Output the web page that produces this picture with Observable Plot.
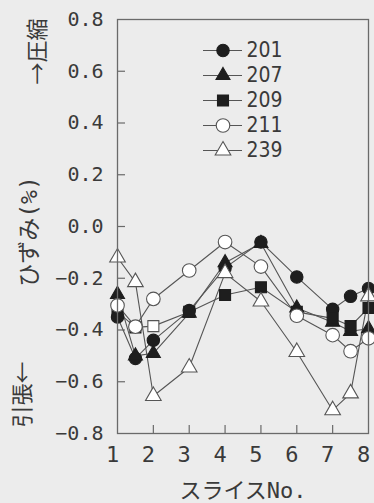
<!DOCTYPE html>
<html>
<head>
<meta charset="utf-8">
<script src="https://cdn.jsdelivr.net/npm/d3@7"></script>
<script src="https://cdn.jsdelivr.net/npm/@observablehq/plot@0.6"></script>
<style>
  html, body { margin: 0; padding: 0; background: #ececec; }
  #wrap { position: relative; width: 374px; height: 503px; }
  #legend { position: absolute; left: 198px; top: 38px; }
</style>
</head>
<body>
<div id="wrap"><div id="chart"></div><div id="legend"></div></div>
<script>
// ---- data ----
const slices = [1, 1.5, 2, 3, 4, 5, 6, 7, 7.5, 8];
const seriesNames = ["201", "207", "209", "211", "239"];
const v201 = [-0.35, -0.51, -0.44, -0.325, -0.16, -0.06, -0.195, -0.32, -0.27, -0.24];
const v207 = [-0.262, -0.50, -0.49, -0.335, -0.14, -0.065, -0.315, -0.37, -0.405, -0.395];
const v209 = [-0.33, -0.39, -0.385, -0.33, -0.265, -0.235, -0.33, -0.355, -0.385, -0.315];
const v211 = [-0.305, -0.387, -0.28, -0.17, -0.06, -0.155, -0.345, -0.42, -0.482, -0.432];
const v239 = [-0.12, -0.215, -0.655, -0.545, -0.18, -0.29, -0.485, -0.71, -0.645, -0.27];
const xTicks = [1, 2, 3, 4, 5, 6, 7, 8];
const yTicks = [-0.8, -0.6, -0.4, -0.2, 0.0, 0.2, 0.4, 0.6, 0.8];
const xLabel = "スライスNo.";
const yLabelLow = "引張←";
const yLabelMid = "ひずみ(%)";
const yLabelHigh = "→圧縮";
const hollowPoints = [{series: "209", slice: 2}];

// ---- build table ----
const valuesBySeries = {"201": v201, "207": v207, "209": v209, "211": v211, "239": v239};
const rows = seriesNames.flatMap(s => slices.map((x, i) => ({series: s, slice: x, value: valuesBySeries[s][i]})));

const DARK = "#1e1e1e", LINE = "#555", FRAME = "#6a6a6a", TEXT = "#3a3a3a";
const style = {
  "201": {symbol: "circle", fill: DARK, stroke: DARK, r: 6.2},
  "207": {symbol: "triangle", fill: DARK, stroke: DARK, r: 5.2},
  "209": {symbol: "square", fill: DARK, stroke: DARK, r: 6.2},
  "211": {symbol: "circle", fill: "white", stroke: LINE, r: 6.8},
  "239": {symbol: "triangle", fill: "white", stroke: LINE, r: 5.8}
};
const isHollow = d => hollowPoints.some(h => h.series === d.series && h.slice === d.slice);

const W = 374, H = 503, MT = 19, MB = 70, ML = 117, MR = 6, TICK = 8;
const plotW = W - ML - MR, plotH = H - MT - MB;

const mono = "'DejaVu Sans Mono', 'Noto Sans CJK JP', monospace";
const cjk = "'Noto Sans CJK JP', sans-serif";
const fmt = d => d.toFixed(1).replace("-", "\u2212");

const dotMarks = seriesNames.map(s => Plot.dot(rows.filter(d => d.series === s), {
  x: "slice", y: "value",
  symbol: () => style[s].symbol,
  r: style[s].r,
  fill: d => isHollow(d) ? "white" : style[s].fill,
  stroke: d => isHollow(d) ? LINE : style[s].stroke,
  strokeWidth: 1.1
}));

const chart = Plot.plot({
  width: W, height: H,
  marginTop: MT, marginBottom: MB, marginLeft: ML, marginRight: MR,
  style: {background: "#ececec", color: TEXT},
  x: {domain: [1, 8], axis: null},
  y: {domain: [-0.8, 0.8], axis: null},
  symbol: {type: "identity"},
  marks: [
    // inward ticks
    Plot.ruleY(yTicks.slice(1, -1), {y: d => d, insetRight: plotW - TICK, stroke: FRAME, strokeWidth: 1.2}),
    Plot.ruleX(xTicks.slice(1, -1), {x: d => d, insetTop: plotH - TICK, stroke: FRAME, strokeWidth: 1.2}),
    Plot.line(rows, {x: "slice", y: "value", z: "series", stroke: LINE, strokeWidth: 1.1}),
    ...dotMarks,
    Plot.frame({stroke: FRAME, strokeWidth: 1.3}),
    // tick labels
    Plot.axisY({ticks: yTicks, tickSize: 0, tickPadding: 14, tickFormat: fmt, fontSize: 20, fontFamily: mono, fill: TEXT, label: null}),
    Plot.axisX({ticks: xTicks, tickSize: 0, tickPadding: 13, dx: -5, tickFormat: d => String(d), fontSize: 22, fontFamily: mono, fill: TEXT, label: null}),
    // axis titles
    Plot.text([xLabel], {text: d => d, frameAnchor: "bottom", lineAnchor: "bottom", dy: 64, fontSize: 22, fontFamily: mono, fill: TEXT}),
    Plot.text([yLabelLow], {text: d => d, frameAnchor: "bottom-left", rotate: -90, textAnchor: "start", dx: -88, dy: -6, fontSize: 22, fontFamily: cjk, fill: TEXT}),
    Plot.text([yLabelMid], {text: d => d, frameAnchor: "left", rotate: -90, textAnchor: "middle", dx: -88, dy: 5, fontSize: 23, fontFamily: mono, fill: TEXT}),
    Plot.text([yLabelHigh], {text: d => d, frameAnchor: "top-left", rotate: -90, textAnchor: "end", dx: -88, dy: -1, fontSize: 22, fontFamily: cjk, fill: TEXT})
  ]
});
document.getElementById("chart").append(chart);

// ---- legend (separate small plot overlaid inside the frame) ----
const legendItems = seriesNames.map(s => ({series: s}));
const legend = Plot.plot({
  width: 90, height: 124,
  margin: 0,
  style: {background: "transparent", overflow: "visible"},
  x: {domain: [0, 1], range: [5, 44], axis: null},
  y: {domain: seriesNames, range: [12, 112], type: "point", padding: 0, axis: null},
  symbol: {type: "identity"},
  marks: [
    Plot.ruleY(legendItems, {y: "series", x1: () => 0, x2: () => 1, stroke: LINE, strokeWidth: 1.1}),
    ...seriesNames.map(s => Plot.dot(legendItems.filter(d => d.series === s), {
      x: () => 0.5, y: "series", symbol: () => style[s].symbol, r: style[s].r,
      fill: style[s].fill, stroke: style[s].stroke, strokeWidth: 1.1
    })),
    Plot.text(legendItems, {x: () => 1, y: "series", text: "series", dx: 4, textAnchor: "start",
      fontSize: 21, fontFamily: "'Liberation Sans Narrow', 'DejaVu Sans Condensed', 'Roboto Condensed', sans-serif", fill: TEXT})
  ]
});
document.getElementById("legend").append(legend);
</script>
</body>
</html>
